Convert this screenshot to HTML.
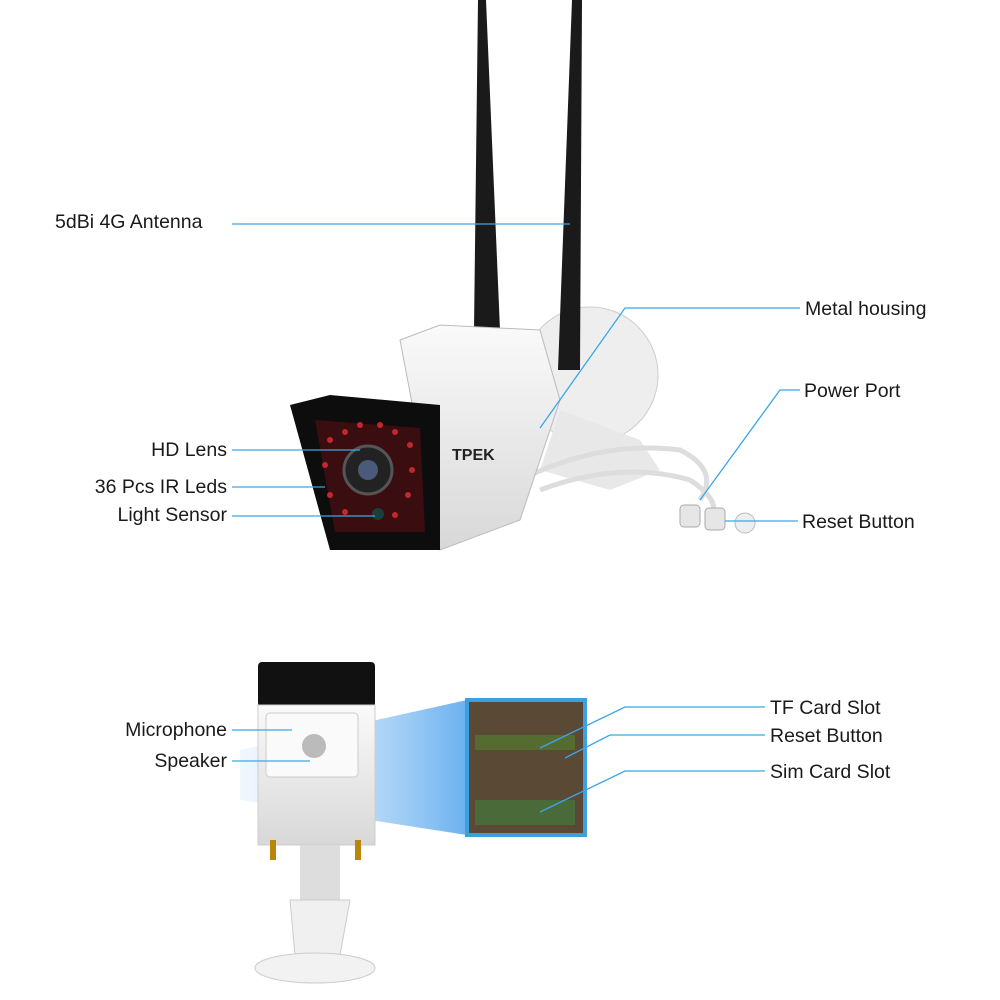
<!DOCTYPE html>
<html><head><meta charset="utf-8"><style>
html,body{margin:0;padding:0;background:#fff;}
svg{display:block;}
text{font-family:"Liberation Sans",sans-serif;font-size:19.5px;fill:#1a1a1a;}
</style></head><body>
<svg width="1000" height="1000" viewBox="0 0 1000 1000" xmlns="http://www.w3.org/2000/svg">
<defs>
<linearGradient id="bl" x1="0" x2="1" y1="0" y2="0">
<stop offset="0" stop-color="#cfe6fb" stop-opacity="0.3"/>
<stop offset="1" stop-color="#5aa8ee" stop-opacity="0.9"/>
</linearGradient>
<linearGradient id="body" x1="0" x2="0" y1="0" y2="1">
<stop offset="0" stop-color="#fafafa"/><stop offset="1" stop-color="#d8d8d8"/>
</linearGradient>
</defs>
<ellipse cx="590" cy="375" rx="68" ry="68" fill="#eeeeee" stroke="#ccc"/>
<path d="M560 410 L640 440 L660 470 L610 490 L540 470 Z" fill="#e8e8e8"/>
<path d="M520 480 Q600 440 680 450 Q720 470 700 500" fill="none" stroke="#ddd" stroke-width="5"/>
<path d="M540 490 Q620 460 690 480 Q720 500 712 515" fill="none" stroke="#ddd" stroke-width="5"/>
<path d="M478 0 L486 0 L500 330 L474 330 Z" fill="#1a1a1a"/>
<path d="M572 0 L582 0 L580 370 L558 370 Z" fill="#1a1a1a"/>
<path d="M400 340 L440 325 L540 330 L560 400 L520 520 L440 550 Z" fill="url(#body)" stroke="#bbb"/>
<path d="M290 405 L330 395 L440 405 L440 550 L330 550 Z" fill="#0d0d0d"/>
<path d="M315 420 L420 428 L425 532 L335 532 Z" fill="#3a0d10"/>
<g fill="#c0282d">
<circle cx="330" cy="440" r="3"/><circle cx="345" cy="432" r="3"/><circle cx="395" cy="432" r="3"/><circle cx="410" cy="445" r="3"/>
<circle cx="325" cy="465" r="3"/><circle cx="412" cy="470" r="3"/><circle cx="330" cy="495" r="3"/><circle cx="408" cy="495" r="3"/>
<circle cx="345" cy="512" r="3"/><circle cx="395" cy="515" r="3"/><circle cx="360" cy="425" r="3"/><circle cx="380" cy="425" r="3"/>
</g>
<circle cx="368" cy="470" r="24" fill="#222" stroke="#555" stroke-width="3"/>
<circle cx="368" cy="470" r="10" fill="#4a5a7a"/>
<circle cx="378" cy="514" r="6" fill="#1b3f3a"/>
<text x="452" y="460" style="font-size:16px;font-weight:bold;fill:#222">TPEK</text>
<rect x="680" y="505" width="20" height="22" rx="4" fill="#e6e6e6" stroke="#aaa"/>
<rect x="705" y="508" width="20" height="22" rx="4" fill="#e6e6e6" stroke="#aaa"/>
<circle cx="745" cy="523" r="10" fill="#eee" stroke="#bbb"/>

<path d="M240 750 L467 700 L467 835 L240 800 Z" fill="url(#bl)"/>
<rect x="258" y="662" width="117" height="45" rx="4" fill="#111"/>
<rect x="258" y="705" width="117" height="140" fill="url(#body)" stroke="#ccc"/>
<rect x="266" y="713" width="92" height="64" rx="4" fill="#fafafa" stroke="#ccc"/>
<circle cx="314" cy="746" r="12" fill="#bbb"/>
<rect x="300" y="845" width="40" height="55" fill="#ddd"/>
<rect x="270" y="840" width="6" height="20" fill="#b8860b"/>
<rect x="355" y="840" width="6" height="20" fill="#b8860b"/>
<path d="M290 900 L350 900 L340 955 L295 955 Z" fill="#f0f0f0" stroke="#ccc"/>
<ellipse cx="315" cy="968" rx="60" ry="15" fill="#f2f2f2" stroke="#ccc"/>
<rect x="467" y="700" width="118" height="135" fill="#5a4a35" stroke="#3aa0e0" stroke-width="4"/>
<rect x="475" y="735" width="100" height="15" fill="#556b2f"/>
<rect x="475" y="800" width="100" height="25" fill="#4a6a3a"/>

<g stroke="#3aa6e6" stroke-width="1.3" fill="none">
<path d="M232 224 L570 224"/>
<path d="M800 308 L625 308 L540 428"/>
<path d="M800 390 L780 390 L700 500"/>
<path d="M798 521 L725 521"/>
<path d="M232 450 L360 450"/>
<path d="M232 487 L325 487"/>
<path d="M232 516 L375 516"/>
<path d="M232 730 L292 730"/>
<path d="M232 761 L310 761"/>
<path d="M765 707 L625 707 L540 748"/>
<path d="M765 735 L610 735 L565 758"/>
<path d="M765 771 L625 771 L540 812"/>
</g>
<text x="55" y="228">5dBi 4G Antenna</text>
<text x="805" y="315">Metal housing</text>
<text x="804" y="397">Power Port</text>
<text x="802" y="528">Reset Button</text>
<text x="227" y="456" text-anchor="end">HD Lens</text>
<text x="227" y="493" text-anchor="end">36 Pcs IR Leds</text>
<text x="227" y="521" text-anchor="end">Light Sensor</text>
<text x="227" y="736" text-anchor="end">Microphone</text>
<text x="227" y="767" text-anchor="end">Speaker</text>
<text x="770" y="714">TF Card Slot</text>
<text x="770" y="742">Reset Button</text>
<text x="770" y="778">Sim Card Slot</text>
</svg>
</body></html>
